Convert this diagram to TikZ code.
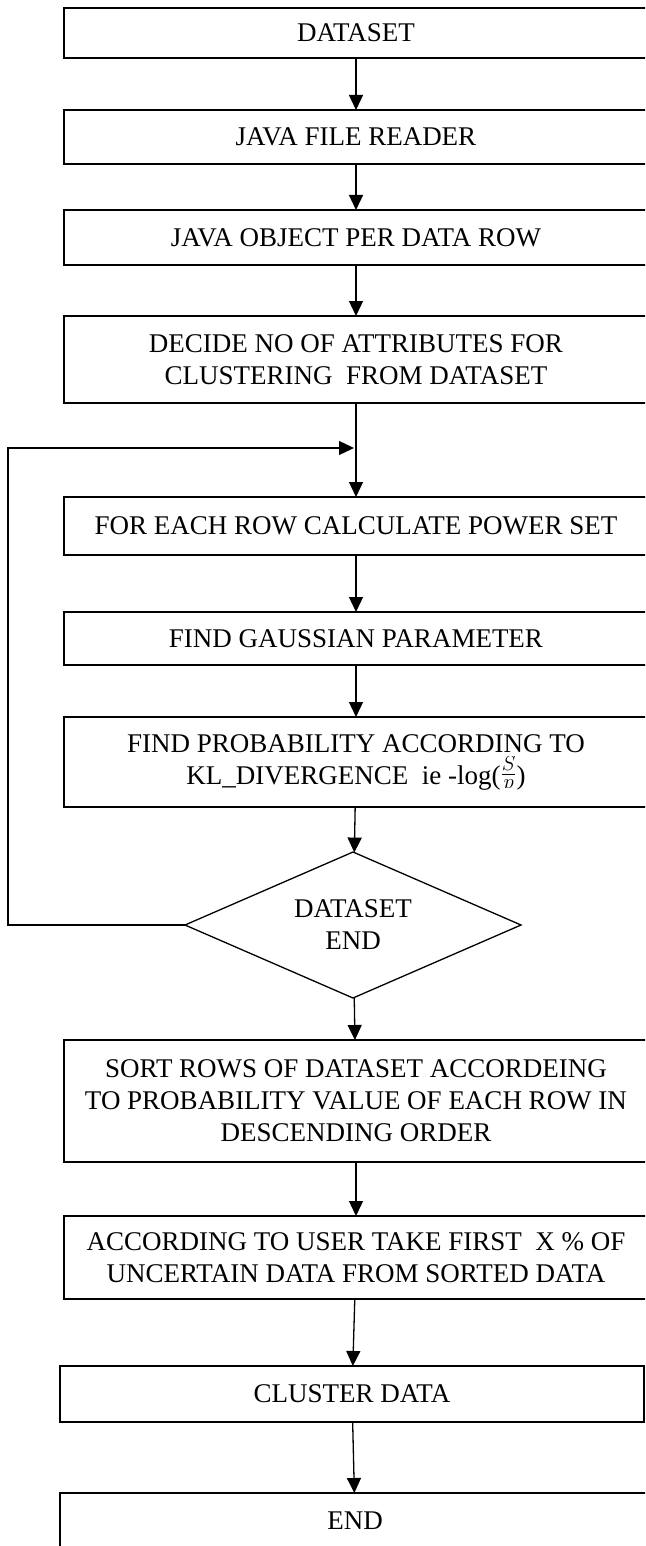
\documentclass[tikz,border=0pt]{standalone}
\usepackage{fontspec}
\setmainfont{Liberation Serif}
\usepackage{trimclip}
\usetikzlibrary{positioning,arrows.meta,shapes.geometric}

\begin{document}
\begin{tikzpicture}[x=1pt,y=-1pt, every node/.style={font=\fontsize{27}{32}\selectfont},
    box/.style={draw,line width=1.3pt,minimum width=584pt,inner sep=0pt,outer sep=0pt,align=center},
    arr/.style={-{Triangle[length=15pt,width=14pt]},line width=1.3pt}]
        \useasboundingbox (0,0) rectangle (645,1546);
        \clip (0,0) rectangle (645,1546);
        \node[box,minimum height=50pt] (ds) at (356,33) {DATASET};
        \node[box,minimum height=54pt,below=52pt of ds] (rd) {JAVA FILE READER};
        \node[box,minimum height=55pt,below=46pt of rd] (obj) {JAVA OBJECT PER DATA ROW};
        \node[box,minimum height=87pt,below=51pt of obj] (att) {DECIDE NO OF ATTRIBUTES FOR\\CLUSTERING\ \ FROM DATASET};
        \node[box,minimum height=58pt,below=94pt of att] (pw) {FOR EACH ROW CALCULATE POWER SET};
        \node[box,minimum height=53pt,below=57pt of pw] (gs) {FIND GAUSSIAN PARAMETER};
        \node[box,minimum height=90pt,below=52pt of gs] (pr) {FIND PROBABILITY ACCORDING TO\\KL\_DIVERGENCE\ \ ie -log(\raisebox{4pt}{\fontsize{31}{36}\selectfont\clipbox*{0pt -7pt {\width} {\height}}{$\frac{S}{p}$}})};
        \node[draw,diamond,aspect=2.3,line width=1.3pt,minimum width=336pt,minimum height=146pt,inner sep=0pt,outer sep=0pt,align=center,below=45pt of pr,xshift=-3pt] (dend) {DATASET\\END};
        \node[box,minimum height=122pt,below=42pt of dend,xshift=3pt] (srt) {SORT ROWS OF DATASET ACCORDEING\\TO PROBABILITY VALUE OF EACH ROW IN\\DESCENDING ORDER};
        \node[box,minimum height=83pt,below=54pt of srt] (usr) {ACCORDING TO USER TAKE FIRST\ \ X \% OF\\UNCERTAIN DATA FROM SORTED DATA};
        \node[box,minimum height=56pt,below=67pt of usr,xshift=-4pt] (cl) {CLUSTER DATA};
        \node[box,minimum height=56pt,minimum width=590pt,below=71pt of cl,xshift=3pt] (en) {END};
        \coordinate[below=45pt of att] (jn);
        \draw[arr] (ds) -- (rd);
        \draw[arr] (rd) -- (obj);
        \draw[arr] (obj) -- (att);
        \draw[arr] (att) -- (pw);
        \draw[arr] (pw) -- (gs);
        \draw[arr] (gs) -- (pr);
        \draw[arr] (pr) -- (dend);
        \draw[arr] (dend) -- (srt);
        \draw[arr] (srt) -- (usr);
        \draw[arr] (usr) -- (cl);
        \draw[arr] (cl) -- (en);
        \draw[arr,shorten >=2pt] (dend.west) -- (8,0 |- dend.west) |- (jn);
      \end{tikzpicture}
\end{document}
